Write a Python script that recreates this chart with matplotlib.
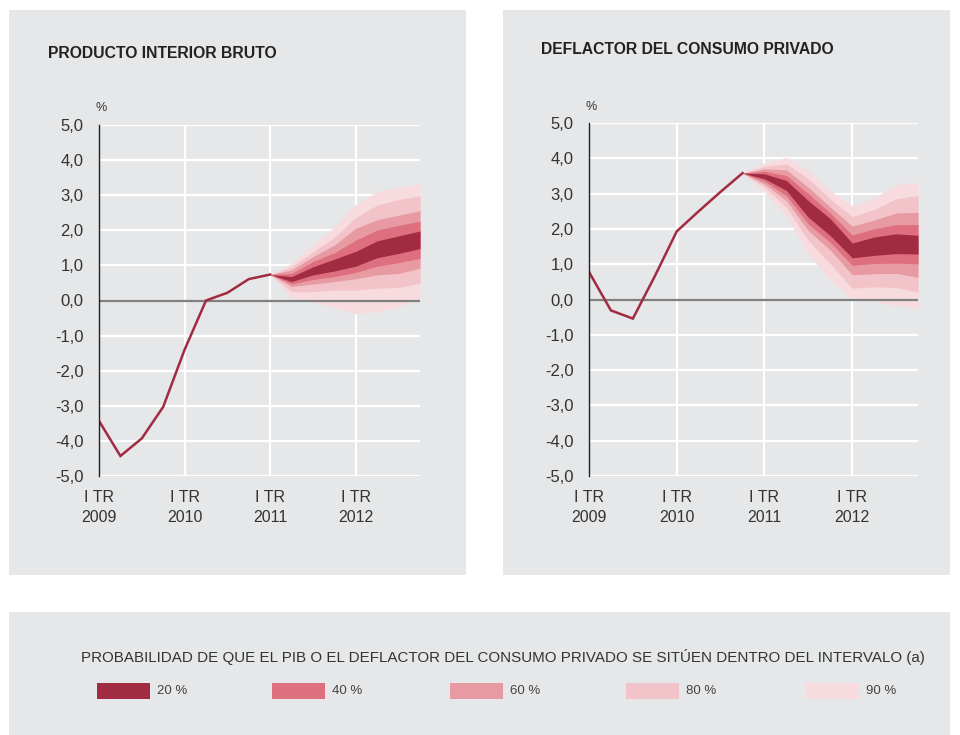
import matplotlib
matplotlib.use("Agg")
import matplotlib.pyplot as plt
from matplotlib.patches import Rectangle

plt.rcParams["font.family"] = ["Liberation Sans", "DejaVu Sans"]

# --- datos ---
trimestres = list(range(16))  # I TR 2009 ... IV TR 2012
etiquetas_x = ["I TR\n2009", "I TR\n2010", "I TR\n2011", "I TR\n2012"]
ticks_x = [0, 4, 8, 12]
ticks_y = [5, 4, 3, 2, 1, 0, -1, -2, -3, -4, -5]

# PIB: historico (trimestres 0-8) y abanico (trimestres 8-15)
pib_hist = [-3.43, -4.43, -3.93, -3.03, -1.40, 0.00, 0.22, 0.61, 0.74]
pib_fan_x = [8, 9, 10, 11, 12, 13, 14, 15]
pib_sup90 = [0.74, 1.06, 1.58, 2.10, 2.75, 3.10, 3.24, 3.32]
pib_sup80 = [0.74, 0.96, 1.39, 1.80, 2.36, 2.72, 2.88, 2.98]
pib_sup60 = [0.74, 0.87, 1.25, 1.58, 2.06, 2.30, 2.43, 2.56]
pib_sup40 = [0.74, 0.77, 1.11, 1.36, 1.72, 2.01, 2.14, 2.26]
pib_sup20 = [0.74, 0.68, 0.96, 1.18, 1.40, 1.70, 1.84, 1.98]
pib_inf20 = [0.74, 0.54, 0.73, 0.84, 0.98, 1.22, 1.34, 1.48]
pib_inf40 = [0.74, 0.47, 0.60, 0.68, 0.80, 0.98, 1.08, 1.20]
pib_inf60 = [0.74, 0.40, 0.47, 0.54, 0.62, 0.73, 0.77, 0.92]
pib_inf80 = [0.74, 0.25, 0.25, 0.30, 0.30, 0.35, 0.37, 0.49]
pib_inf90 = [0.74, 0.06, -0.05, -0.20, -0.38, -0.32, -0.18, 0.05]

# Deflactor: historico (trimestres 0-7) y abanico (trimestres 7-15)
defl_hist = [0.78, -0.31, -0.54, 0.66, 1.93, 2.50, 3.05, 3.58]
defl_fan_x = [7, 8, 9, 10, 11, 12, 13, 14, 15]
defl_sup90 = [3.58, 3.86, 4.03, 3.65, 3.09, 2.65, 2.88, 3.25, 3.32]
defl_sup80 = [3.58, 3.77, 3.84, 3.42, 2.85, 2.35, 2.55, 2.85, 2.95]
defl_sup60 = [3.58, 3.70, 3.67, 3.18, 2.62, 2.08, 2.25, 2.45, 2.47]
defl_sup40 = [3.58, 3.63, 3.51, 3.00, 2.45, 1.83, 2.00, 2.12, 2.12]
defl_sup20 = [3.58, 3.56, 3.37, 2.80, 2.29, 1.60, 1.77, 1.86, 1.82]
defl_inf20 = [3.58, 3.42, 3.09, 2.33, 1.81, 1.18, 1.25, 1.30, 1.29]
defl_inf40 = [3.58, 3.35, 2.94, 2.14, 1.62, 0.97, 1.02, 1.03, 1.01]
defl_inf60 = [3.58, 3.27, 2.80, 1.95, 1.40, 0.70, 0.73, 0.74, 0.63]
defl_inf80 = [3.58, 3.18, 2.61, 1.67, 1.01, 0.32, 0.36, 0.34, 0.21]
defl_inf90 = [3.58, 3.04, 2.38, 1.29, 0.54, 0.00, -0.05, -0.17, -0.26]

probabilidades = ["20 %", "40 %", "60 %", "80 %", "90 %"]
colores = ["#a12b41", "#de6f7e", "#e89aa2", "#f2c4ca", "#f7dbdf"]

GRIS = "#e6e7e8"
W, H = 960, 735

fig = plt.figure(figsize=(W / 100, H / 100), dpi=100)
fig.patch.set_facecolor("white")


def rect_px(x0, y0, x1, y1, color):
    fig.add_artist(Rectangle((x0 / W, 1 - y1 / H), (x1 - x0) / W, (y1 - y0) / H,
                             transform=fig.transFigure, facecolor=color,
                             edgecolor="none", zorder=0))


def axes_px(x0, y0, x1, y1):
    return fig.add_axes([x0 / W, 1 - y1 / H, (x1 - x0) / W, (y1 - y0) / H])


def texto_px(x, y, s, **kw):
    fig.text(x / W, 1 - y / H, s, **kw)


# paneles de fondo
rect_px(9, 10, 466, 575, GRIS)
rect_px(503, 10, 950, 575, GRIS)
rect_px(9, 612, 950, 735, GRIS)


def dibujar(ax, hist, fan_x, sups, infs):
    ax.set_facecolor(GRIS)
    ax.set_xlim(0, 15)
    ax.set_ylim(-5, 5)
    for t in ticks_y:
        ax.axhline(t, color="white", lw=1.6, zorder=1)
    for t in ticks_x[1:]:
        ax.axvline(t, color="white", lw=1.6, zorder=1)
    # abanico: de la banda mas ancha a la mas estrecha
    for sup, inf, c in zip(sups[::-1], infs[::-1], colores[::-1]):
        ax.fill_between(fan_x, inf, sup, color=c, lw=0, zorder=2)
    ax.axhline(0, color="#808080", lw=1.6, zorder=3)
    ax.plot(trimestres[:len(hist)], hist, color="#a12b41", lw=1.8, zorder=4,
            solid_joinstyle="miter")
    for s in ["top", "right", "bottom"]:
        ax.spines[s].set_visible(False)
    ax.spines["left"].set_color("#222222")
    ax.spines["left"].set_linewidth(1.0)
    ax.spines["left"].set_zorder(5)
    ax.set_yticks(ticks_y)
    ax.set_yticklabels([f"{t:.1f}".replace(".", ",") for t in ticks_y],
                       fontsize=12, color="#333333")
    ax.set_xticks(ticks_x)
    ax.set_xticklabels(etiquetas_x, fontsize=11.5, color="#333333",
                       linespacing=1.45)
    ax.tick_params(axis="y", length=0, pad=11)
    ax.tick_params(axis="x", length=0, pad=10)


ax1 = axes_px(99, 125, 420, 476)
dibujar(ax1, pib_hist, pib_fan_x,
        [pib_sup20, pib_sup40, pib_sup60, pib_sup80, pib_sup90],
        [pib_inf20, pib_inf40, pib_inf60, pib_inf80, pib_inf90])

ax2 = axes_px(589, 123, 918, 476)
dibujar(ax2, defl_hist, defl_fan_x,
        [defl_sup20, defl_sup40, defl_sup60, defl_sup80, defl_sup90],
        [defl_inf20, defl_inf40, defl_inf60, defl_inf80, defl_inf90])

texto_px(48, 53, "PRODUCTO INTERIOR BRUTO", fontsize=11.3, fontweight="bold",
         color="#222222", va="center")
texto_px(541, 50, "DEFLACTOR DEL CONSUMO PRIVADO", fontsize=11.3,
         fontweight="bold", color="#222222", va="center")
texto_px(96, 108, "%", fontsize=9, color="#333333", va="center")
texto_px(586, 107, "%", fontsize=9, color="#333333", va="center")

# leyenda
texto_px(81, 657, "PROBABILIDAD DE QUE EL PIB O EL DEFLACTOR DEL CONSUMO "
         "PRIVADO SE SITÚEN DENTRO DEL INTERVALO (a)", fontsize=10.9,
         color="#333333", va="center")
pos_leyenda = [97, 272, 450, 626, 806]
for x0, c, lab in zip(pos_leyenda, colores, probabilidades):
    rect_px(x0, 683, x0 + 53, 699, c)
    texto_px(x0 + 60, 691, lab, fontsize=9.5, color="#444444", va="center")

fig.savefig("out.png", dpi=100, facecolor="white")
